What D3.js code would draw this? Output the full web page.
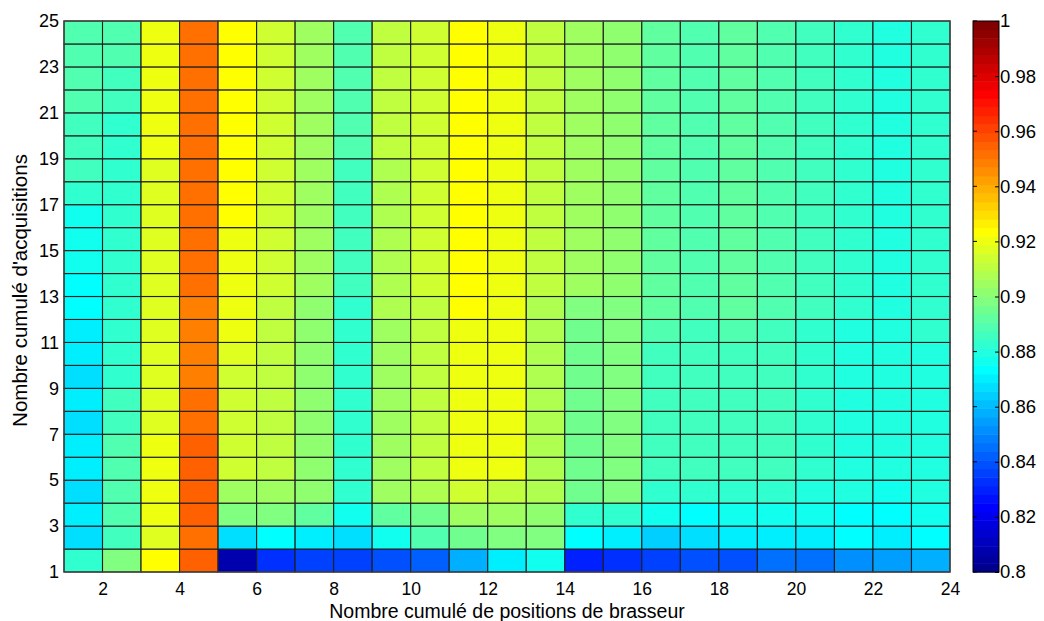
<!DOCTYPE html>
<html>
<head>
<meta charset="utf-8">
<script src="https://cdn.jsdelivr.net/npm/d3@7"></script>
<style>
  body { margin: 0; background: #fff; }
  svg { display: block; }
  text { font-family: Arial, "Liberation Sans", sans-serif; fill: #000; }
</style>
</head>
<body>
<svg id="chart" width="1044" height="621"></svg>
<script>
// ---------- data ----------
const xTicks = [2, 4, 6, 8, 10, 12, 14, 16, 18, 20, 22, 24];
const yTicks = [1, 3, 5, 7, 9, 11, 13, 15, 17, 19, 21, 23, 25];
const colorTicks = [0.8, 0.82, 0.84, 0.86, 0.88, 0.9, 0.92, 0.94, 0.96, 0.98, 1];
const colorTickLabels = ["0.8", "0.82", "0.84", "0.86", "0.88", "0.9", "0.92", "0.94", "0.96", "0.98", "1"];
// cell lower-left corners (brasseur positions / acquisitions)
const xCells = [1,2,3,4,5,6,7,8,9,10,11,12,13,14,15,16,17,18,19,20,21,22,23];
const yCells = [1,2,3,4,5,6,7,8,9,10,11,12,13,14,15,16,17,18,19,20,21,22,23,24];
// values, one row per acquisition count (bottom row first), one entry per brasseur column
const values = [
  [.884,.898,.923,.955,.808,.834,.835,.837,.838,.842,.859,.870,.878,.830,.834,.836,.838,.840,.846,.846,.852,.855,.858],
  [.866,.887,.917,.950,.866,.873,.870,.866,.878,.889,.896,.898,.898,.873,.870,.865,.866,.870,.870,.870,.872,.871,.873],
  [.869,.888,.920,.956,.897,.897,.893,.876,.893,.896,.906,.905,.902,.883,.882,.877,.874,.876,.876,.875,.873,.874,.876],
  [.868,.888,.920,.956,.905,.905,.902,.882,.906,.908,.915,.912,.907,.896,.898,.884,.884,.884,.883,.881,.880,.878,.880],
  [.871,.888,.920,.956,.913,.910,.902,.884,.906,.912,.920,.919,.907,.896,.898,.887,.886,.887,.886,.883,.880,.879,.880],
  [.870,.888,.920,.955,.914,.910,.902,.884,.906,.912,.920,.920,.907,.896,.898,.887,.886,.887,.886,.883,.880,.879,.880],
  [.868,.886,.917,.953,.915,.910,.902,.884,.906,.912,.920,.920,.907,.896,.898,.887,.886,.887,.886,.883,.880,.879,.880],
  [.870,.885,.917,.950,.915,.910,.902,.884,.906,.912,.920,.920,.907,.896,.898,.887,.886,.887,.886,.883,.880,.879,.880],
  [.868,.884,.917,.949,.915,.910,.902,.884,.906,.912,.920,.920,.907,.896,.898,.887,.886,.887,.886,.883,.880,.879,.880],
  [.870,.884,.917,.949,.916,.910,.902,.884,.906,.912,.920,.920,.907,.896,.898,.887,.886,.887,.886,.883,.880,.879,.880],
  [.870,.884,.917,.949,.919,.910,.902,.884,.906,.912,.921,.920,.907,.896,.898,.890,.887,.890,.887,.884,.881,.880,.882],
  [.873,.884,.917,.949,.919,.911,.903,.884,.907,.912,.923,.919,.907,.899,.898,.891,.888,.891,.889,.886,.882,.881,.883],
  [.874,.883,.917,.950,.920,.914,.904,.886,.909,.914,.923,.921,.911,.905,.901,.892,.888,.892,.888,.886,.883,.880,.883],
  [.878,.883,.917,.950,.920,.914,.904,.886,.909,.914,.923,.921,.911,.905,.901,.892,.888,.892,.888,.886,.883,.880,.883],
  [.877,.883,.917,.950,.921,.914,.904,.886,.909,.914,.923,.921,.911,.905,.901,.892,.888,.892,.888,.886,.883,.880,.883],
  [.877,.883,.917,.950,.922,.914,.904,.886,.909,.914,.923,.921,.911,.905,.901,.892,.888,.892,.888,.886,.883,.880,.883],
  [.882,.884,.917,.952,.922,.914,.904,.887,.909,.914,.923,.921,.911,.905,.901,.892,.888,.892,.888,.886,.883,.880,.883],
  [.885,.884,.918,.953,.922,.914,.904,.887,.909,.914,.923,.921,.911,.905,.901,.892,.888,.892,.888,.886,.883,.880,.883],
  [.886,.884,.919,.953,.923,.915,.905,.889,.910,.915,.923,.921,.912,.906,.902,.893,.888,.892,.889,.886,.883,.880,.883],
  [.886,.884,.919,.953,.923,.915,.905,.889,.910,.915,.923,.921,.912,.906,.902,.893,.888,.892,.889,.886,.883,.880,.883],
  [.888,.887,.921,.953,.923,.915,.905,.889,.910,.915,.923,.921,.912,.906,.902,.893,.888,.892,.889,.886,.883,.880,.883],
  [.889,.887,.921,.953,.923,.915,.905,.890,.910,.915,.923,.921,.912,.906,.902,.893,.888,.892,.889,.886,.883,.880,.883],
  [.889,.888,.921,.953,.923,.915,.905,.890,.910,.915,.923,.921,.912,.906,.902,.893,.888,.892,.889,.886,.883,.880,.883],
  [.890,.890,.921,.953,.923,.915,.905,.890,.910,.915,.923,.921,.912,.906,.902,.893,.888,.892,.889,.886,.883,.880,.883]
];
const xLabel = "Nombre cumulé de positions de brasseur";
const yLabel = "Nombre cumulé d'acquisitions";

// ---------- jet colormap (64 levels, as MATLAB builds it) ----------
function jetColor(i) { // i = 1..64
  const c = v => Math.max(0, Math.min(1, v));
  const r = c(Math.min((i - 24) / 16, 1 - (i - 56) / 16));
  const g = c(Math.min((i - 8) / 16, 1 - (i - 40) / 16));
  const b = c(Math.min((i + 8) / 16, 1 - (i - 24) / 16));
  return d3.rgb(Math.round(r * 255), Math.round(g * 255), Math.round(b * 255)).formatHex();
}
const jetColors = d3.range(1, 65).map(jetColor);

// ---------- layout ----------
const svg = d3.select("#chart");
const plot = { left: 64, right: 950, top: 21, bottom: 572 };
const cbar = { left: 973, right: 999 };
const FONT = "Arial, 'Liberation Sans', sans-serif";

const x = d3.scaleLinear().domain([1, 24]).range([plot.left, plot.right]);
const y = d3.scaleLinear().domain([1, 25]).range([plot.bottom, plot.top]);
const color = d3.scaleQuantize().domain([0.8, 1]).range(jetColors);

svg.append("rect").attr("width", 1044).attr("height", 621).attr("fill", "#fff");

// cells
const cells = [];
yCells.forEach((yy, ri) => xCells.forEach((xx, ci) => cells.push({ x: xx, y: yy, v: values[ri][ci] })));
svg.append("g").selectAll("rect").data(cells).join("rect")
  .attr("x", d => x(d.x))
  .attr("y", d => y(d.y + 1))
  .attr("width", d => x(d.x + 1) - x(d.x))
  .attr("height", d => y(d.y) - y(d.y + 1))
  .attr("fill", d => color(d.v))
  .attr("stroke", "#1e1e1e")
  .attr("stroke-width", 1.1);

// plot frame
svg.append("rect")
  .attr("x", plot.left).attr("y", plot.top)
  .attr("width", plot.right - plot.left).attr("height", plot.bottom - plot.top)
  .attr("fill", "none").attr("stroke", "#444").attr("stroke-width", 1.3);

// axes
const xAxis = svg.append("g").attr("transform", `translate(0,${plot.bottom})`)
  .call(d3.axisBottom(x).tickValues(xTicks).tickSize(0).tickPadding(11).tickFormat(d3.format("d")));
xAxis.select(".domain").remove();
xAxis.selectAll("text").attr("font-size", 17.5).style("font-family", FONT);

const yAxis = svg.append("g").attr("transform", `translate(${plot.left},0)`)
  .call(d3.axisLeft(y).tickValues(yTicks).tickSize(0).tickPadding(5).tickFormat(d3.format("d")));
yAxis.select(".domain").remove();
yAxis.selectAll("text").attr("font-size", 18).style("font-family", FONT);

// axis labels
svg.append("text").attr("x", (plot.left + plot.right) / 2).attr("y", 618)
  .attr("text-anchor", "middle").attr("font-size", 19.5).text(xLabel);
svg.append("text").attr("transform", `translate(27,${(plot.top + plot.bottom) / 2 - 6}) rotate(-90)`)
  .attr("text-anchor", "middle").attr("font-size", 20.5).text(yLabel);

// colorbar
const cy = d3.scaleLinear().domain([0.8, 1]).range([plot.bottom, plot.top]);
const bands = jetColors.map((c, i) => ({ c, lo: 0.8 + i * 0.2 / 64, hi: 0.8 + (i + 1) * 0.2 / 64 }));
svg.append("g").selectAll("rect").data(bands).join("rect")
  .attr("x", cbar.left).attr("width", cbar.right - cbar.left)
  .attr("y", d => cy(d.hi)).attr("height", d => cy(d.lo) - cy(d.hi) + 0.5)
  .attr("fill", d => d.c);
svg.append("rect")
  .attr("x", cbar.left).attr("y", plot.top)
  .attr("width", cbar.right - cbar.left).attr("height", plot.bottom - plot.top)
  .attr("fill", "none").attr("stroke", "#000").attr("stroke-width", 1);

const cAxis = svg.append("g").attr("transform", `translate(${cbar.right},0)`)
  .call(d3.axisRight(cy).tickValues(colorTicks).tickSize(-4).tickPadding(6)
    .tickFormat((d, i) => colorTickLabels[i]));
cAxis.select(".domain").remove();
cAxis.selectAll("line").attr("stroke", "#000");
cAxis.selectAll("text").attr("font-size", 18.5).attr("x", 1).style("font-family", FONT);
// inward ticks on the left side of the colorbar
svg.append("g").selectAll("line").data(colorTicks).join("line")
  .attr("x1", cbar.left).attr("x2", cbar.left + 4)
  .attr("y1", d => cy(d)).attr("y2", d => cy(d))
  .attr("stroke", "#000");
</script>
</body>
</html>
